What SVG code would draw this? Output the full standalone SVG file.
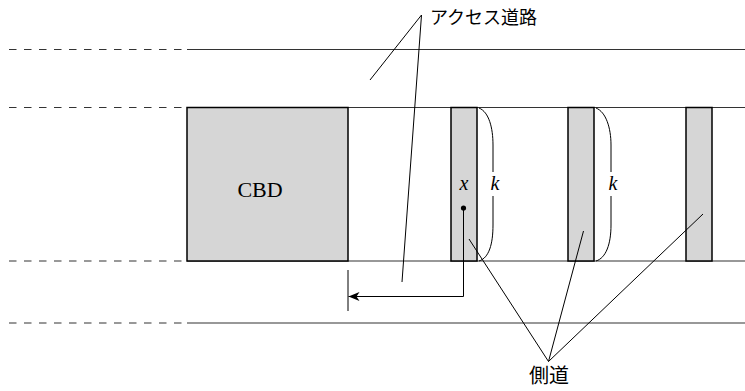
<svg xmlns="http://www.w3.org/2000/svg" width="745" height="391" viewBox="0 0 745 391">
<defs>
<style>
.road{stroke:#333;stroke-width:1.2;fill:none}
.dash{stroke:#333;stroke-width:1.2;fill:none;stroke-dasharray:7.5 7.5}
.blk{fill:#d6d6d6;stroke:#000;stroke-width:1.5}
.thin{stroke:#000;stroke-width:1;fill:none}
.jp{font-family:"Noto Sans CJK JP","Noto Sans",sans-serif;font-size:18px;fill:#000}
.rm{font-family:"Liberation Serif","DejaVu Serif",serif;font-size:22px;fill:#000}
.it{font-family:"Liberation Serif","DejaVu Serif",serif;font-style:italic;font-size:20px;fill:#000}
</style>
<marker id="ah" markerWidth="12" markerHeight="10" refX="11" refY="5" orient="auto" markerUnits="userSpaceOnUse">
<path d="M11,5 L0,0.5 L3,5 L0,9.5 Z" fill="#000"/>
</marker>
</defs>
<rect width="745" height="391" fill="#fff"/>
<g id="roads">
<line class="dash" x1="9" y1="49.5" x2="187" y2="49.5"/>
<line class="road" x1="187" y1="49.5" x2="745" y2="49.5"/>
<line class="dash" x1="9" y1="107.5" x2="187" y2="107.5"/>
<line class="road" x1="187" y1="107.5" x2="745" y2="107.5"/>
<line class="dash" x1="9" y1="261" x2="187" y2="261"/>
<line class="road" x1="187" y1="261" x2="745" y2="261"/>
<line class="dash" x1="9" y1="323" x2="187" y2="323"/>
<line class="road" x1="187" y1="323" x2="745" y2="323"/>
</g>
<g id="cbd">
<rect class="blk" x="187" y="107.5" width="161" height="153.5"/>
<text class="rm" x="260" y="197" text-anchor="middle">CBD</text>
</g>
<g id="side1">
<rect class="blk" x="451" y="107.5" width="26" height="153.5"/>
</g>
<g id="side2">
<rect class="blk" x="568" y="107.5" width="26" height="153.5"/>
</g>
<g id="side3">
<rect class="blk" x="686" y="107.5" width="26" height="153.5"/>
</g>
<g id="labels">
<text class="it" x="464" y="190" text-anchor="middle">x</text>
<text class="it" x="495" y="190" text-anchor="middle">k</text>
<text class="it" x="613" y="190" text-anchor="middle">k</text>
<text class="jp" x="430" y="24">アクセス道路</text>
<text class="jp" x="529" y="383" style="font-size:20px">側道</text>
</g>
<g id="connectors">
<path class="thin" d="M479,108 C489,112 493,128 493,145 L493,172"/>
<path class="thin" d="M493,196 L493,225 C493,244 489,258 479,261"/>
<path class="thin" d="M596,108 C606,112 611,128 611,145 L611,172"/>
<path class="thin" d="M611,196 L611,225 C611,244 606,258 596,261"/>
<circle cx="463.5" cy="208" r="2.6" fill="#000"/>
<path class="thin" d="M463.5,208 L463.5,296.5 L348.5,296.5" marker-end="url(#ah)"/>
<line class="thin" x1="348" y1="270" x2="348" y2="311"/>
<polyline class="thin" points="370,80 421.5,15 402,282"/>
<polyline class="thin" points="469,239 548.5,361.5 583.5,231"/>
<line class="thin" x1="548.5" y1="361.5" x2="703" y2="214"/>
</g>
</svg>
